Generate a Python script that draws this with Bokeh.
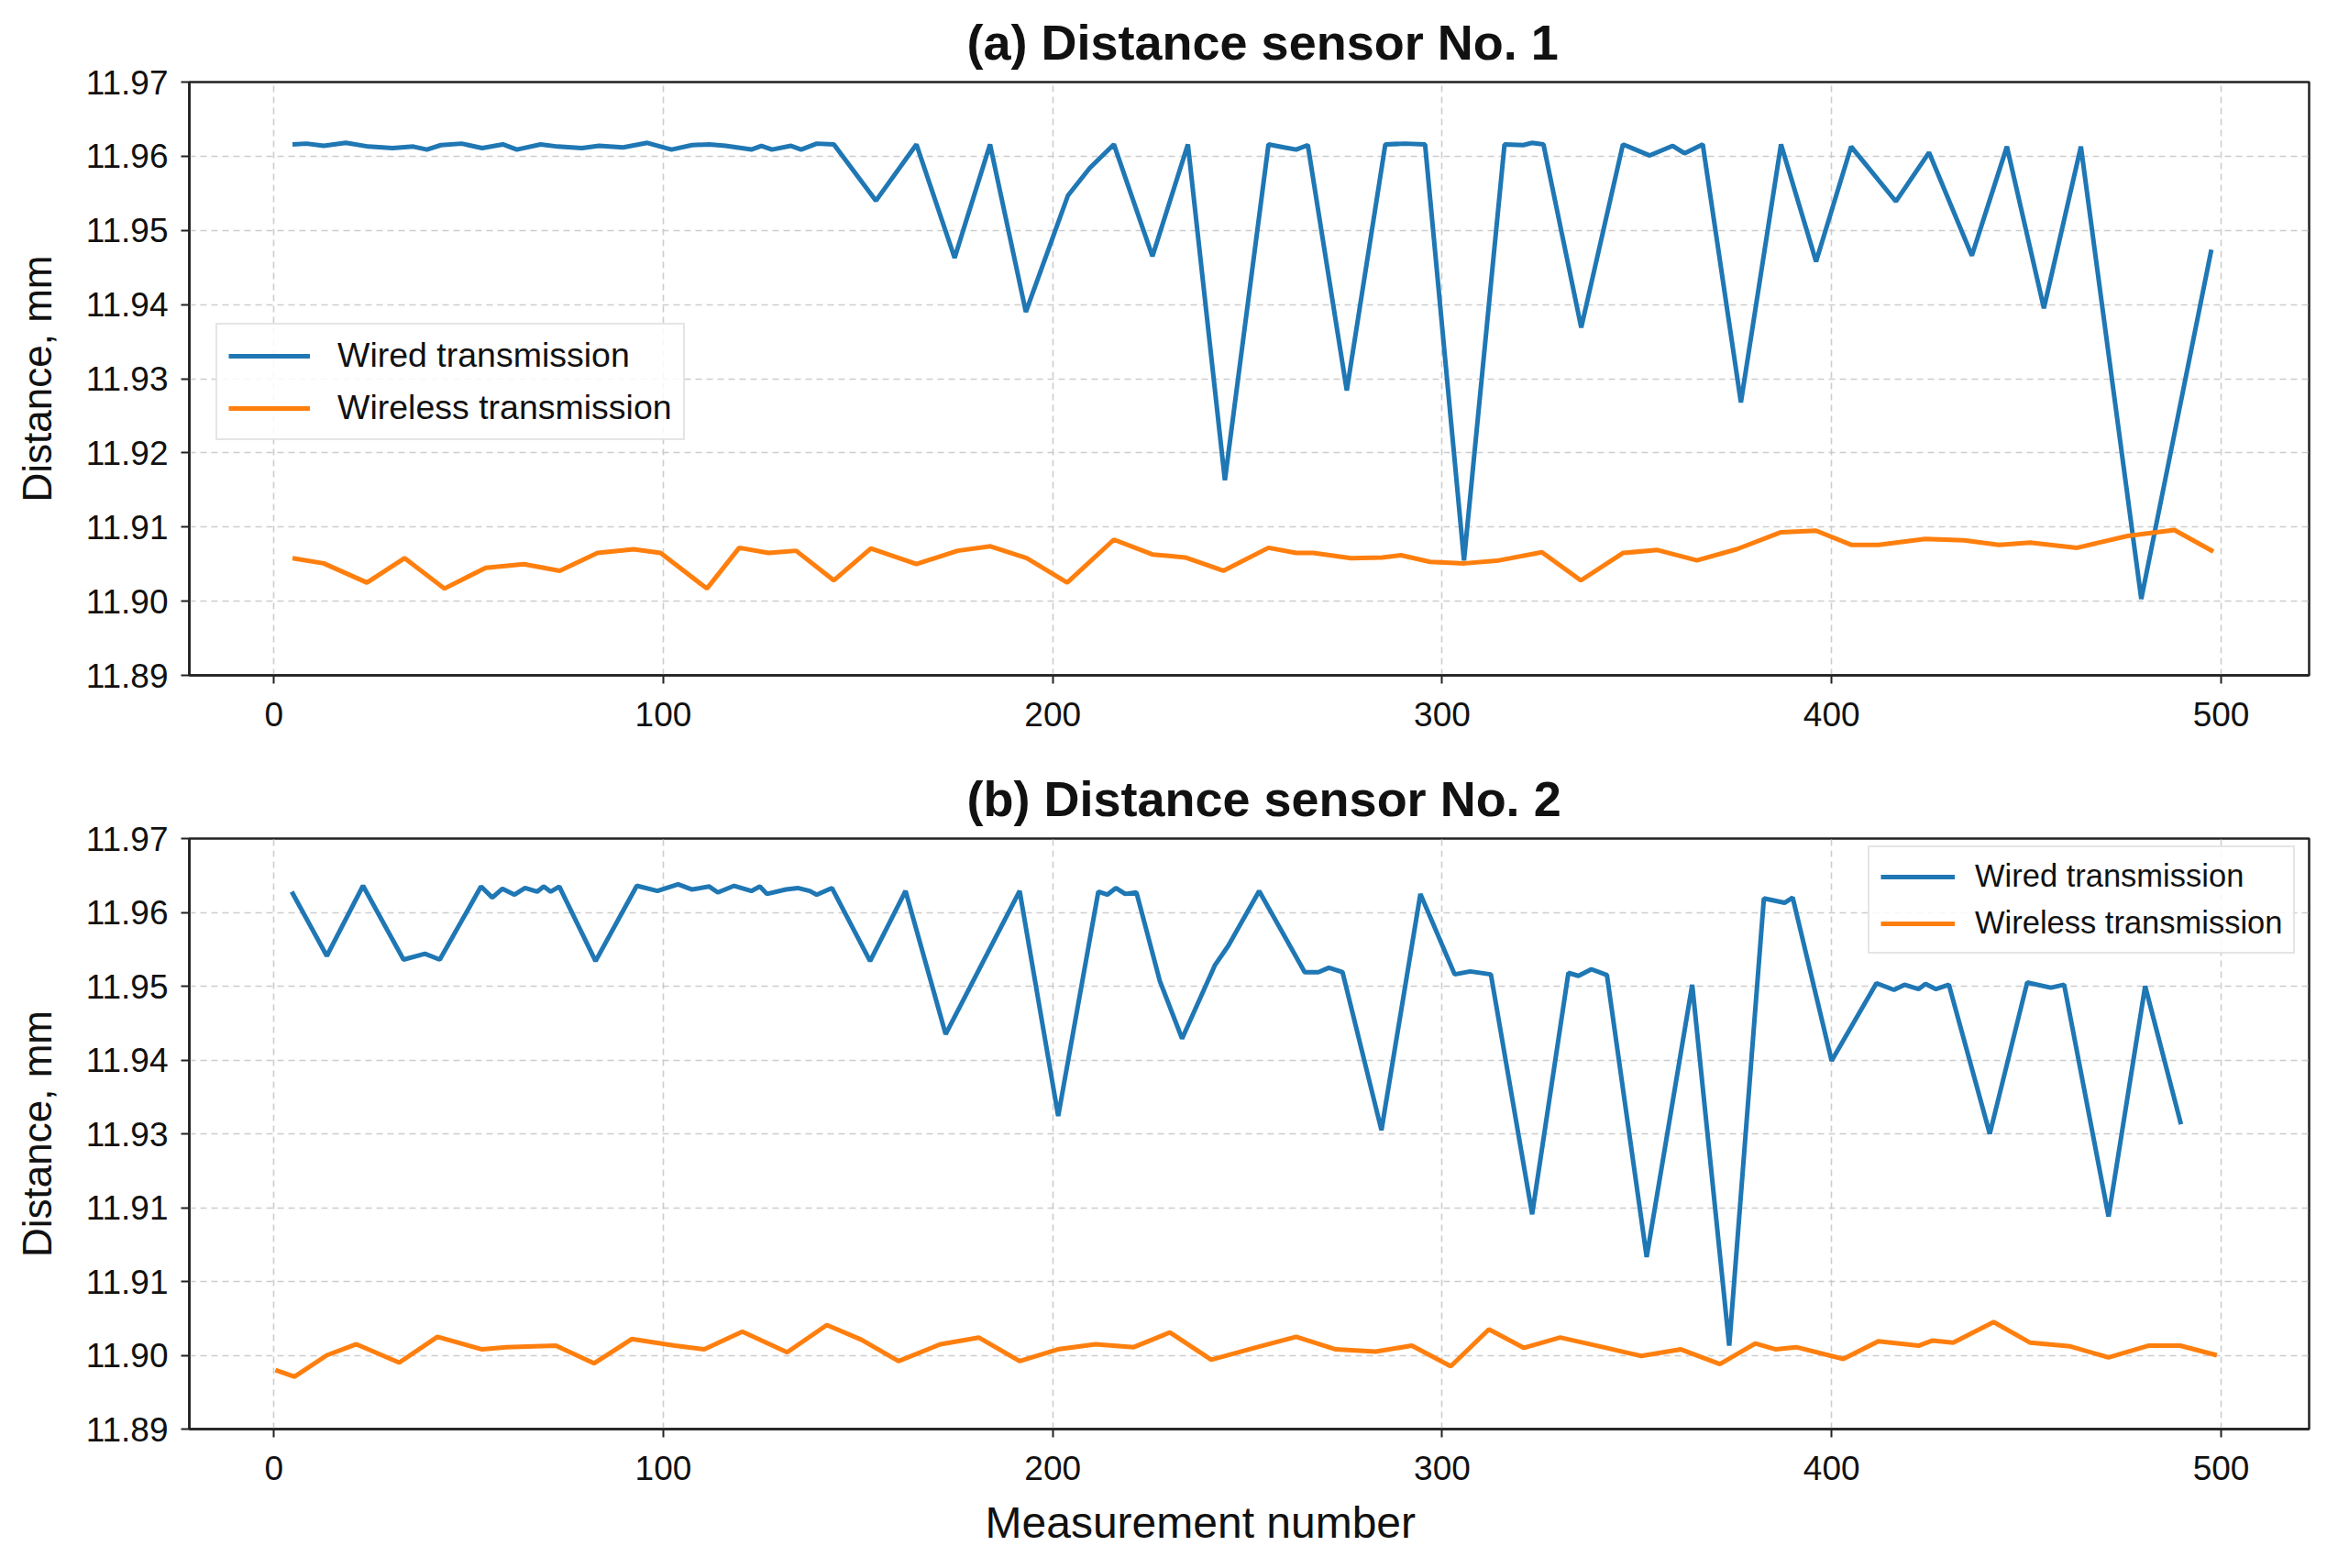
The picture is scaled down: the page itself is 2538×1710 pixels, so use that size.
from bokeh.plotting import figure
from bokeh.layouts import column
from bokeh.models import Range1d, FixedTicker, Legend, LegendItem, Title
from bokeh.embed import file_html
from bokeh.resources import INLINE

# ---------------- data ----------------
x_ticks = [0, 100, 200, 300, 400, 500]
y_ticks = [11.89, 11.90, 11.91, 11.92, 11.93, 11.94, 11.95, 11.96, 11.97]
y_labels_a = ["11.89", "11.90", "11.91", "11.92", "11.93", "11.94", "11.95", "11.96", "11.97"]
y_labels_b = ["11.89", "11.90", "11.91", "11.91", "11.93", "11.94", "11.95", "11.96", "11.97"]

series_names = ["Wired transmission", "Wireless transmission"]
titles = ["(a) Distance sensor No. 1", "(b) Distance sensor No. 2"]
x_label = "Measurement number"
y_label = "Distance, mm"

a_wired_x = [4.8, 8.4, 12.8, 18.5, 24.3, 30.5, 35.8, 39.3, 42.9, 48.2, 53.5, 58.8, 62.4, 68.5, 72.9,
             79.1, 83.5, 89.7, 95.9, 102.1, 107.4, 111.8, 116, 122.6, 125.2, 127.9, 132.8, 135.4,
             139.4, 143.8, 154.6, 165, 174.8, 183.9, 193.1, 203.9, 209.5, 215.7, 225.6, 234.7,
             244.2, 255.4, 259.4, 262.5, 265.5, 275.5, 285.4, 290.5, 295.6, 305.6, 316, 320.8,
             323, 326, 335.7, 346.4, 353.3, 359.2, 362.2, 366.9, 376.7, 387, 396, 405, 416.5,
             425, 436, 445, 454.5, 464, 479.5, 497.5]
a_wired_y = [11.9616, 11.9617, 11.9614, 11.9618, 11.9613, 11.9611, 11.9613, 11.9609, 11.9615,
             11.9617, 11.9611, 11.9616, 11.9609, 11.9616, 11.9613, 11.9611, 11.9614, 11.9612,
             11.9618, 11.9609, 11.9615, 11.9616, 11.9614, 11.9609, 11.9614, 11.9609, 11.9614,
             11.9609, 11.9617, 11.9616, 11.9540, 11.9616, 11.9463, 11.9616, 11.9390, 11.9547,
             11.9584, 11.9616, 11.9465, 11.9616, 11.9163, 11.9616, 11.9612, 11.9609, 11.9615,
             11.9284, 11.9616, 11.9617, 11.9616, 11.9055, 11.9616, 11.9615, 11.9618, 11.9616,
             11.9369, 11.9616, 11.9601, 11.9614, 11.9604, 11.9616, 11.9268, 11.9616, 11.9458,
             11.9613, 11.9539, 11.9605, 11.9466, 11.9613, 11.9395, 11.9613, 11.9003, 11.9474]

a_wireless_x = [4.8, 12.8, 23.9, 33.6, 43.8, 54.4, 64.2, 73.4, 83.1, 92.4, 99.3, 111.2, 119.5,
                127, 134.1, 143.8, 153.3, 165, 175.6, 184, 193.3, 203.7, 215.7, 225.6, 234,
                243.8, 255.4, 262.5, 266.9, 276.6, 284.6, 289.4, 296.9, 305.7, 314.6, 325.6,
                335.6, 346.4, 355.3, 365.4, 375.6, 387, 396, 405, 412, 424, 434, 443, 451, 463,
                476, 488, 498]
a_wireless_y = [11.9058, 11.9051, 11.9025, 11.9058, 11.9017, 11.9045, 11.9050, 11.9041, 11.9065,
                11.9070, 11.9065, 11.9017, 11.9072, 11.9065, 11.9068, 11.9028, 11.9071, 11.9050,
                11.9068, 11.9074, 11.9058, 11.9025, 11.9083, 11.9063, 11.9059, 11.9041, 11.9072,
                11.9065, 11.9065, 11.9058, 11.9059, 11.9062, 11.9053, 11.9051, 11.9055, 11.9066,
                11.9028, 11.9065, 11.9069, 11.9055, 11.9070, 11.9093, 11.9095, 11.9076, 11.9076,
                11.9084, 11.9082, 11.9076, 11.9079, 11.9072, 11.9088, 11.9096, 11.9067]

b_wired_x = [4.6, 13.6, 22.9, 33.3, 38.8, 42.6, 53.2, 56.1, 58.7, 61.8, 64.5, 67.6, 69.3, 71.1,
             73.3, 82.6, 93.2, 98.5, 103.8, 107.4, 111.8, 114, 118.2, 122.6, 124.8, 126.6, 131.5,
             134.5, 137.6, 139.4, 143.3, 153.1, 162.2, 172.5, 191.5, 201.4, 211.7, 214, 216.2,
             218.6, 221.5, 227.5, 233.2, 241.6, 245.1, 253, 264.7, 268.2, 270.9, 274.4, 284.4,
             294.4, 303.2, 307.2, 312.5, 323.1, 332.4, 335, 338.3, 342.3, 352.5, 364.2, 373.7,
             382.6, 387.9, 390, 400, 411.5, 416, 418.7, 422.3, 424.1, 426.8, 430.1, 440.6, 450.2,
             456.3, 459.7, 471.1, 480.5, 489.7]
b_wired_y = [11.9628, 11.9541, 11.9636, 11.9536, 11.9544, 11.9536, 11.9635, 11.9620, 11.9632,
             11.9624, 11.9633, 11.9628, 11.9635, 11.9628, 11.9635, 11.9534, 11.9636, 11.9629,
             11.9638, 11.9631, 11.9635, 11.9627, 11.9636, 11.9629, 11.9635, 11.9625, 11.9631,
             11.9633, 11.9629, 11.9624, 11.9633, 11.9534, 11.9629, 11.9435, 11.9629, 11.9324,
             11.9628, 11.9624, 11.9633, 11.9625, 11.9627, 11.9507, 11.9429, 11.9528, 11.9555,
             11.9629, 11.9519, 11.9519, 11.9525, 11.9519, 11.9305, 11.9625, 11.9516, 11.9520,
             11.9516, 11.9191, 11.9518, 11.9514, 11.9523, 11.9515, 11.9133, 11.9502, 11.9013,
             11.9619, 11.9613, 11.9620, 11.9399, 11.9504, 11.9495, 11.9502, 11.9496, 11.9503,
             11.9496, 11.9502, 11.9300, 11.9505, 11.9498, 11.9502, 11.9188, 11.9500, 11.9313]

b_wireless_x = [0.4, 5.3, 13.6, 21.2, 32.2, 42, 53.5, 59.6, 72.4, 82.2, 91.9, 103, 110.5, 120.3,
                131.8, 142, 150.9, 160.4, 171.2, 181, 191.5, 201.3, 211, 220.8, 230.1, 240.7,
                252.5, 262.5, 272.7, 282.9, 292.2, 302.2, 312, 321, 330.3, 341.3, 351.1, 361.3,
                371.3, 380.4, 385.7, 390.9, 403, 412, 422.3, 425.9, 431.2, 441.6, 451, 461.3,
                471.1, 481.3, 489.5, 498.9]
b_wireless_y = [11.8980, 11.8971, 11.9000, 11.9015, 11.8990, 11.9025, 11.9008, 11.9011, 11.9013,
                11.8989, 11.9022, 11.9013, 11.9008, 11.9032, 11.9004, 11.9041, 11.9021, 11.8992,
                11.9015, 11.9024, 11.8992, 11.9008, 11.9015, 11.9011, 11.9031, 11.8994, 11.9011,
                11.9025, 11.9008, 11.9005, 11.9013, 11.8985, 11.9035, 11.9010, 11.9024, 11.9011,
                11.8999, 11.9008, 11.8988, 11.9016, 11.9008, 11.9011, 11.8995, 11.9019, 11.9013,
                11.9020, 11.9017, 11.9045, 11.9017, 11.9012, 11.8997, 11.9013, 11.9013, 11.9000]

# ---------------- style ----------------
FONT = "Liberation Sans"
BLUE = "#1f77b4"
ORANGE = "#ff7f0e"
W = 2538


def make_panel(title, wx, wy, rx, ry, ylabels, height, top, bottom, show_xlabel,
               legend_loc, legend_font, legend_glyph_w, legend_spacing, legend_standoff):
    p = figure(width=W, height=height, output_backend="svg", toolbar_location=None,
               x_range=Range1d(-21.7, 522.6), y_range=Range1d(11.89, 11.97),
               min_border_left=206, min_border_right=20,
               min_border_top=top, min_border_bottom=bottom,
               background_fill_color="white", border_fill_color="white")
    p.title.text = title
    p.title.text_font = FONT
    p.title.text_font_size = "54px"
    p.title.text_font_style = "bold"
    p.title.align = "left"
    p.title.offset = 848
    p.title.text_color = "#111111"
    p.title.standoff = 27

    p.outline_line_color = "#222222"
    p.outline_line_width = 2.5
    p.outline_line_alpha = 1.0

    for ax in (p.xaxis[0], p.yaxis[0]):
        ax.axis_line_color = "#222222"
        ax.axis_line_width = 2.5
        ax.major_tick_line_color = "#222222"
        ax.major_tick_line_width = 2
        ax.major_tick_out = 9
        ax.major_tick_in = 0
        ax.minor_tick_line_color = None
        ax.major_label_text_font = FONT
        ax.major_label_text_font_size = "37px"
        ax.major_label_text_color = "#111111"
        ax.axis_label_text_font = FONT
        ax.axis_label_text_font_size = "44px"
        ax.axis_label_text_font_style = "normal"
        ax.axis_label_text_color = "#111111"

    p.xaxis.ticker = FixedTicker(ticks=x_ticks)
    p.xaxis.major_label_standoff = 20
    p.yaxis.ticker = FixedTicker(ticks=y_ticks)
    p.yaxis.major_label_overrides = {t: lab for t, lab in zip(y_ticks, ylabels)}
    p.yaxis.major_label_standoff = 14
    p.yaxis.axis_label = y_label
    p.yaxis.axis_label_standoff = 26
    if show_xlabel:
        xt = Title(text=x_label, align="left", offset=868, text_font=FONT,
                   text_font_size="48px", text_font_style="normal", text_color="#111111",
                   standoff=30)
        p.add_layout(xt, "below")

    for g in (p.xgrid[0], p.ygrid[0]):
        g.grid_line_color = "#c8c8c8"
        g.grid_line_dash = "7 5"
        g.grid_line_width = 1.6
        g.grid_line_alpha = 0.9
    p.xgrid.ticker = FixedTicker(ticks=x_ticks)
    p.ygrid.ticker = FixedTicker(ticks=y_ticks)

    l1 = p.line(wx, wy, line_color=BLUE, line_width=5)
    l2 = p.line(rx, ry, line_color=ORANGE, line_width=5)

    legend = Legend(items=[LegendItem(label=series_names[0], renderers=[l1]),
                           LegendItem(label=series_names[1], renderers=[l2])],
                    location=legend_loc)
    legend.label_text_font = FONT
    legend.label_text_font_size = legend_font
    legend.label_text_color = "#111111"
    legend.glyph_width = legend_glyph_w
    legend.glyph_height = 30
    legend.label_standoff = legend_standoff
    legend.spacing = legend_spacing
    legend.padding = 12
    legend.margin = 0
    legend.border_line_color = "#cccccc"
    legend.border_line_width = 2
    legend.background_fill_color = "white"
    legend.background_fill_alpha = 0.85
    p.add_layout(legend, "center")
    return p


pa = make_panel(titles[0], a_wired_x, a_wired_y, a_wireless_x, a_wireless_y, y_labels_a,
                height=818, top=89, bottom=82, show_xlabel=False,
                legend_loc=(29, 256), legend_font="37.5px", legend_glyph_w=89,
                legend_spacing=14, legend_standoff=30)
pb = make_panel(titles[1], b_wired_x, b_wired_y, b_wireless_x, b_wireless_y, y_labels_b,
                height=892, top=96, bottom=152, show_xlabel=True,
                legend_loc=(1831, 518), legend_font="34.5px", legend_glyph_w=81,
                legend_spacing=12, legend_standoff=22)

layout = column(pa, pb, spacing=0)
open("out.html", "w").write(file_html(layout, INLINE))
